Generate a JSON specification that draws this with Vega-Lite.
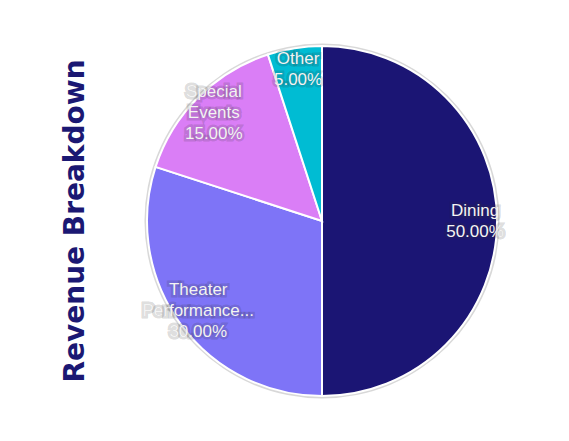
{
  "$schema": "https://vega.github.io/schema/vega-lite/v6.json",
  "width": 350,
  "height": 358,
  "autosize": {"type": "none"},
  "padding": {"left": 147, "top": 42, "right": 72, "bottom": 41},
  "background": "white",
  "title": {
    "text": "Revenue Breakdown",
    "orient": "left",
    "anchor": "middle",
    "font": "DejaVu Sans",
    "fontWeight": "bold",
    "fontSize": 28,
    "color": "#1b1873",
    "offset": 52
  },
  "config": {"view": {"stroke": null}},
  "data": {
    "values": [
      {"category": "Dining", "value": 50, "rank": 1, "lines": 2, "label": "Dining\n50.00%"},
      {"category": "Theater Performances", "value": 30, "rank": 2, "lines": 3, "label": "Theater\nPerformance...\n30.00%"},
      {"category": "Special Events", "value": 15, "rank": 3, "lines": 3, "label": "Special\nEvents\n15.00%"},
      {"category": "Other", "value": 5, "rank": 4, "lines": 2, "label": "Other\n5.00%"}
    ]
  },
  "layer": [
    {
      "data": {"values": [{"ring": 1}]},
      "mark": {"type": "arc", "radius": 177.5, "fill": "#c8c8c8", "fillOpacity": 0.7},
      "encoding": {"theta": {"value": 6.2832}}
    },
    {
      "mark": {"type": "arc", "stroke": "white", "strokeWidth": 2},
      "encoding": {
        "theta": {"field": "value", "type": "quantitative", "stack": true},
        "order": {"field": "rank", "type": "ordinal"},
        "color": {
          "field": "category",
          "type": "nominal",
          "legend": null,
          "scale": {
            "domain": ["Dining", "Theater Performances", "Special Events", "Other"],
            "range": ["#1b1574", "#7e74f7", "#da7ef6", "#00bcd3"]
          }
        }
      }
    },
    {
      "mark": {"type": "text", "radius": 153, "dy": -10.5, "font": "Liberation Sans", "fontSize": 17, "lineBreak": "\n", "lineHeight": 21, "align": "center", "baseline": "middle", "stroke": "#333333", "strokeWidth": 5, "strokeOpacity": 0.18, "fill": "#333333", "fillOpacity": 0.25},
      "encoding": {
        "theta": {"field": "value", "type": "quantitative", "stack": true},
        "order": {"field": "rank", "type": "ordinal"},
        "text": {"condition": {"test": "datum.lines == 2", "field": "label"}, "value": ""}
      }
    },
    {
      "mark": {"type": "text", "radius": 153, "dy": -21, "font": "Liberation Sans", "fontSize": 17, "lineBreak": "\n", "lineHeight": 21, "align": "center", "baseline": "middle", "stroke": "#333333", "strokeWidth": 5, "strokeOpacity": 0.18, "fill": "#333333", "fillOpacity": 0.25},
      "encoding": {
        "theta": {"field": "value", "type": "quantitative", "stack": true},
        "order": {"field": "rank", "type": "ordinal"},
        "text": {"condition": {"test": "datum.lines == 3", "field": "label"}, "value": ""}
      }
    },
    {
      "mark": {"type": "text", "radius": 153, "dy": -10.5, "font": "Liberation Sans", "fontSize": 17, "lineBreak": "\n", "lineHeight": 21, "align": "center", "baseline": "middle", "fill": "#f4f4f4"},
      "encoding": {
        "theta": {"field": "value", "type": "quantitative", "stack": true},
        "order": {"field": "rank", "type": "ordinal"},
        "text": {"condition": {"test": "datum.lines == 2", "field": "label"}, "value": ""}
      }
    },
    {
      "mark": {"type": "text", "radius": 153, "dy": -21, "font": "Liberation Sans", "fontSize": 17, "lineBreak": "\n", "lineHeight": 21, "align": "center", "baseline": "middle", "fill": "#f4f4f4"},
      "encoding": {
        "theta": {"field": "value", "type": "quantitative", "stack": true},
        "order": {"field": "rank", "type": "ordinal"},
        "text": {"condition": {"test": "datum.lines == 3", "field": "label"}, "value": ""}
      }
    }
  ]
}
